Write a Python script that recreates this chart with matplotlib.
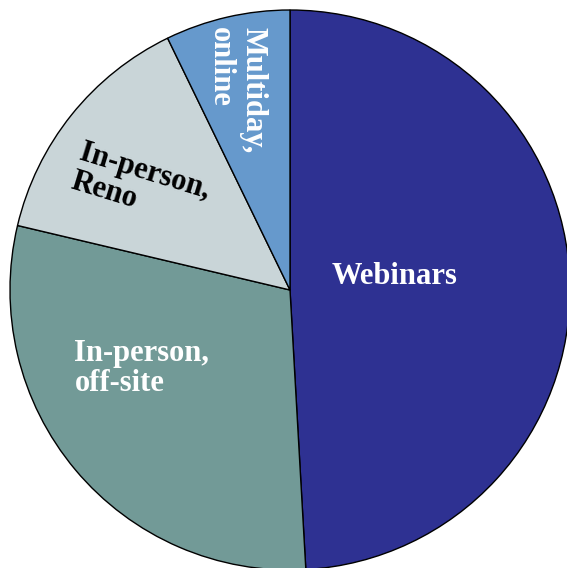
import matplotlib
matplotlib.use("Agg")
import matplotlib.pyplot as plt

labels = ["Webinars", "In-person,\noff-site", "In-person,\nReno", "Multiday,\nonline"]
shares = [49.1, 29.6, 14.1, 7.2]
colors = ["#2E3192", "#729A97", "#C9D5D8", "#6699CC"]

plt.rcParams['font.family'] = ['Liberation Serif', 'DejaVu Serif']

fig = plt.figure(figsize=(5.67, 5.68), dpi=100)
ax = fig.add_axes([0, 0, 1, 1])

# pie starts at 12 o'clock and runs clockwise
wedges, _ = ax.pie(shares, colors=colors, startangle=90, counterclock=False,
                   radius=1, center=(0, 0),
                   wedgeprops=dict(edgecolor='black', linewidth=1.0))

ax.set_xlim(-290 / 280, 277 / 280)
ax.set_ylim(-278 / 280, 290 / 280)
ax.set_aspect('equal')
ax.axis('off')

fs = 22
ax.text(0.375, 0.05, labels[0], color='white', fontsize=fs, fontweight='bold',
        ha='center', va='center')
ax.text(-0.77, -0.28, labels[1], color='white', fontsize=fs, fontweight='bold',
        ha='left', va='center', multialignment='left', linespacing=1.05)
ax.text(-0.535, 0.37, labels[2], color='black', fontsize=fs, fontweight='bold',
        ha='center', va='center', multialignment='left', rotation=-17,
        linespacing=1.05)
ax.text(-0.19, 0.94, labels[3], color='white', fontsize=fs, fontweight='bold',
        ha='center', va='top', multialignment='left', rotation=270,
        linespacing=1.15)

fig.savefig("out.png", dpi=100)
